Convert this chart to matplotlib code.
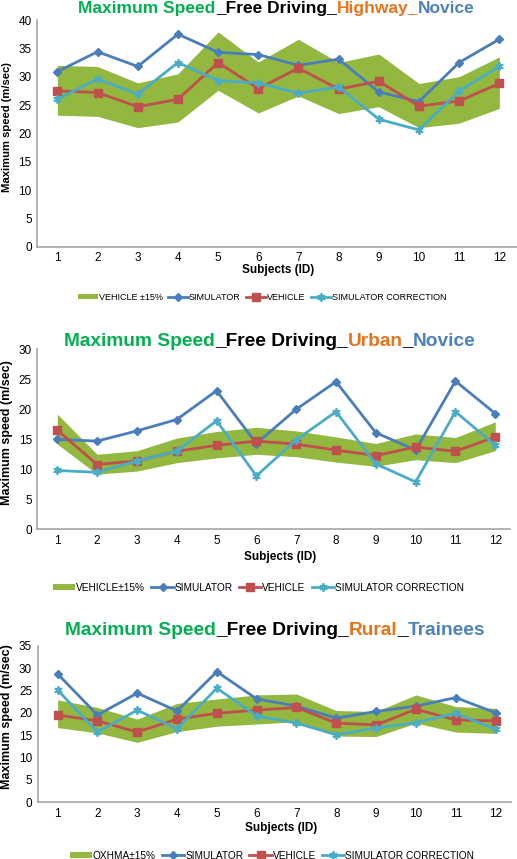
#!/usr/bin/env python3
import matplotlib
matplotlib.use('Agg')  # Use a non-interactive backend for plotting

import matplotlib.pyplot as plt
import numpy as np

# Subjects on the x axis (same for all three panels)
subjects = np.arange(1, 13)

# Highway / Novice
hw_simulator = [30.9, 34.4, 31.8, 37.5, 34.3, 33.9, 32.0, 33.1, 27.3, 25.6, 32.5, 36.6]
hw_vehicle = [27.5, 27.2, 24.7, 26.0, 32.5, 27.9, 31.5, 27.8, 29.2, 24.8, 25.7, 28.8]
hw_correction = [26.0, 29.6, 26.9, 32.5, 29.3, 28.9, 27.1, 28.2, 22.5, 20.6, 27.5, 31.8]
hw_upper = [32.0, 31.8, 28.9, 30.5, 37.9, 32.6, 36.6, 32.5, 34.0, 28.8, 30.0, 33.5]
hw_lower = [23.2, 23.0, 21.0, 22.0, 27.6, 23.6, 26.6, 23.5, 24.7, 21.0, 21.8, 24.4]

# Urban / Novice
ur_simulator = [15.0, 14.7, 16.4, 18.3, 23.1, 14.3, 20.0, 24.6, 16.1, 13.2, 24.7, 19.3]
ur_vehicle = [16.5, 10.8, 11.4, 13.0, 14.0, 14.7, 14.2, 13.2, 12.3, 13.7, 13.0, 15.4]
ur_correction = [9.8, 9.5, 11.4, 13.0, 18.1, 8.9, 14.9, 19.6, 10.9, 7.9, 19.6, 14.0]
ur_upper = [19.2, 12.5, 13.1, 15.2, 16.3, 17.0, 16.4, 15.4, 14.3, 15.9, 15.3, 17.9]
ur_lower = [14.2, 9.2, 9.7, 11.1, 11.9, 12.5, 12.1, 11.2, 10.5, 11.6, 11.1, 13.1]

# Rural / Trainees
ru_simulator = [28.7, 19.5, 24.4, 20.4, 29.2, 23.1, 21.5, 18.8, 20.3, 21.5, 23.4, 20.0]
ru_vehicle = [19.5, 18.2, 15.7, 18.6, 19.9, 20.6, 21.2, 17.7, 17.3, 20.8, 18.4, 18.2]
ru_correction = [25.1, 15.7, 20.6, 16.4, 25.5, 19.3, 17.7, 15.1, 16.6, 17.8, 19.9, 16.3]
ru_upper = [22.9, 21.2, 18.6, 22.1, 23.1, 24.0, 24.2, 20.5, 20.3, 24.0, 21.4, 21.0]
ru_lower = [16.7, 15.5, 13.4, 15.8, 17.0, 17.5, 18.0, 14.8, 14.7, 17.7, 15.7, 15.4]

W, H = 517, 859

GREEN = "#00B050"
ORANGE = "#E8731C"
BLUE = "#4F81BD"
BAND = "#92B840"
SIM = "#4A7EBB"
VEH = "#C0504D"
CORR = "#4BACC6"

plt.rcParams['font.family'] = ['Liberation Sans', 'DejaVu Sans']


def fx(x):
    return x / W


def fy(y):
    return 1 - y / H


def colored_title(fig, parts, x_center, y_base, size):
    """Write the title piece by piece so each part gets its own colour."""
    renderer = fig.canvas.get_renderer()
    texts, widths = [], []
    for s, c in parts:
        t = fig.text(0, fy(y_base), s, color=c, fontsize=size,
                     fontweight='bold', va='baseline', ha='left')
        widths.append(t.get_window_extent(renderer).width)
        texts.append(t)
    x = x_center - sum(widths) / 2
    for t, w in zip(texts, widths):
        t.set_x(fx(x))
        x += w


def draw_panel(fig, rect, xmax, ymax, sim, veh, corr, upper, lower, band_label,
               legend_pos, legend_size, xlabel_pos, ylabel_y, ylabel_size):
    left, top, right, bottom = rect
    ax = fig.add_axes([fx(left), fy(bottom), (right - left) / W, (bottom - top) / H])

    ax.fill_between(subjects, lower, upper, color=BAND, linewidth=0, label=band_label)
    ax.plot(subjects, sim, color=SIM, lw=2, marker='D', ms=4.5, label='SIMULATOR')
    ax.plot(subjects, veh, color=VEH, lw=2, marker='s', ms=6, label='VEHICLE')
    ax.plot(subjects, corr, color=CORR, lw=2, marker=(6, 2, 0), ms=6, mew=1.3,
            label='SIMULATOR CORRECTION')

    ax.set_xlim(0.5, xmax)
    ax.set_ylim(0, ymax)
    ax.set_xticks(subjects)
    ax.set_yticks(np.arange(0, ymax + 1, 5))
    ax.tick_params(length=0, labelsize=8.5, pad=4)
    for side in ('top', 'right'):
        ax.spines[side].set_visible(False)
    for side in ('left', 'bottom'):
        ax.spines[side].set_color('#A6A6A6')
        ax.spines[side].set_linewidth(1.2)

    fig.text(fx(xlabel_pos[0]), fy(xlabel_pos[1]), 'Subjects (ID)', fontsize=8.5,
             fontweight='bold', ha='center', va='center')
    fig.text(fx(7), fy(ylabel_y), 'Maximum speed (m/sec)', fontsize=ylabel_size,
             fontweight='bold', ha='center', va='center', rotation=90)

    fig.legend(*ax.get_legend_handles_labels(), loc='center',
               bbox_to_anchor=(fx(legend_pos[0]), fy(legend_pos[1])),
               ncol=4, frameon=False, fontsize=legend_size,
               handlelength=2.2, handleheight=0.6, handletextpad=0.1,
               columnspacing=0.6)
    return ax


fig = plt.figure(figsize=(W / 100, H / 100), dpi=100)

draw_panel(fig, (37.3, 20, 517, 246.7), 12.44, 40,
           hw_simulator, hw_vehicle, hw_correction, hw_upper, hw_lower,
           'VEHICLE ±15%', (262, 297.3), 6.5, (278, 270), 126.7, 8.1)
draw_panel(fig, (37.4, 349.3, 510, 529.3), 12.37, 30,
           ur_simulator, ur_vehicle, ur_correction, ur_upper, ur_lower,
           'VEHICLE±15%', (258.5, 587.7), 7.3, (280, 556.7), 432.8, 9.0)
draw_panel(fig, (37.7, 645.7, 510.7, 802.3), 12.38, 35,
           ru_simulator, ru_vehicle, ru_correction, ru_upper, ru_lower,
           'ΟΧΗΜΑ±15%', (272, 855.7), 7.3, (281, 828.3), 716.7, 9.0)

colored_title(fig, [('Maximum Speed', GREEN), ('_Free Driving_', 'black'),
                    ('Highway_', ORANGE), ('Novice', BLUE)], 276.5, 13.3, 12.5)
colored_title(fig, [('Maximum Speed', GREEN), ('_Free Driving_', 'black'),
                    ('Urban', ORANGE), ('_', 'black'), ('Novice', BLUE)], 270, 346, 13.8)
colored_title(fig, [('Maximum Speed', GREEN), ('_Free Driving_', 'black'),
                    ('Rural', ORANGE), ('_', 'black'), ('Trainees', BLUE)], 275, 635, 13.8)

fig.savefig('out.png', dpi=100)
